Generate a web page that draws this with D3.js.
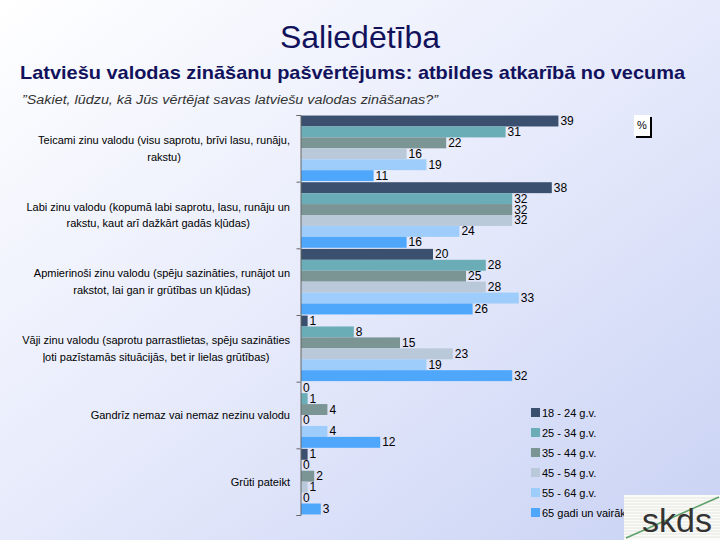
<!DOCTYPE html>
<html><head><meta charset="utf-8">
<script src="https://cdn.jsdelivr.net/npm/d3@7"></script>
<style>html,body{margin:0;padding:0;}svg{display:block;font-family:Arial,"Liberation Sans",sans-serif;}</style>
</head><body>
<script>
const categories = [
  ["Teicami zinu valodu (visu saprotu, brīvi lasu, runāju,", "rakstu)"],
  ["Labi zinu valodu (kopumā labi saprotu, lasu, runāju un", "rakstu, kaut arī dažkārt gadās kļūdas)"],
  ["Apmierinoši zinu valodu (spēju sazināties, runājot un", "rakstot, lai gan ir grūtības un kļūdas)"],
  ["Vāji zinu valodu (saprotu parrastlietas, spēju sazināties", "ļoti pazīstamās situācijās, bet ir lielas grūtības)"],
  ["Gandrīz nemaz vai nemaz nezinu valodu"],
  ["Grūti pateikt"]
];
const seriesNames = ["18 - 24 g.v.", "25 - 34 g.v.", "35 - 44 g.v.", "45 - 54 g.v.", "55 - 64 g.v.", "65 gadi un vairāk"];
const seriesColors = ["#3b506f", "#6badb6", "#7b9494", "#b9c9d9", "#9fcdfb", "#4fa7fb"];
const s18_24 = [39, 38, 20, 1, 0, 1];
const s25_34 = [31, 32, 28, 8, 1, 0];
const s35_44 = [22, 32, 25, 15, 4, 2];
const s45_54 = [16, 32, 28, 23, 0, 1];
const s55_64 = [19, 24, 33, 19, 4, 0];
const s65plus = [11, 16, 26, 32, 12, 3];
const series = [s18_24, s25_34, s35_44, s45_54, s55_64, s65plus];

const W = 720, H = 540;
const svg = d3.select("body").append("svg").attr("width", W).attr("height", H);
const defs = svg.append("defs");
const bg = defs.append("linearGradient").attr("id", "bg").attr("x1", "0").attr("y1", "0").attr("x2", "1").attr("y2", "1");
bg.append("stop").attr("offset", "0").attr("stop-color", "#ffffff");
bg.append("stop").attr("offset", "0.5").attr("stop-color", "#e6eafb");
bg.append("stop").attr("offset", "1").attr("stop-color", "#c9d2f4");
svg.append("rect").attr("width", W).attr("height", H).attr("fill", "url(#bg)");

// Titles
svg.append("text").attr("x", 360).attr("y", 48).attr("text-anchor", "middle")
  .attr("font-size", 32).attr("fill", "#12125c").text("Saliedētība");
svg.append("text").attr("x", 20).attr("y", 79)
  .attr("font-size", 19).attr("font-weight", "bold").attr("fill", "#12125c")
  .attr("textLength", 665).attr("lengthAdjust", "spacingAndGlyphs")
  .text("Latviešu valodas zināšanu pašvērtējums: atbildes atkarībā no vecuma");
svg.append("text").attr("x", 22).attr("y", 104)
  .attr("font-size", 12.5).attr("font-style", "italic").attr("fill", "#333")
  .attr("textLength", 416).attr("lengthAdjust", "spacingAndGlyphs")
  .text("\u201DSakiet, lūdzu, kā Jūs vērtējat savas latviešu valodas zināšanas?\u201D");

// Scales
const x = d3.scaleLinear().domain([0, 60]).range([301, 697]);
const y0 = d3.scaleBand().domain(d3.range(categories.length)).range([115, 515]).paddingInner(0).paddingOuter(0);
const y1 = d3.scaleBand().domain(d3.range(seriesNames.length)).range([0, y0.bandwidth()]).paddingOuter(0.05).paddingInner(0);

const plot = svg.append("g");
categories.forEach((cat, ci) => {
  const g = plot.append("g").attr("transform", `translate(0,${y0(ci)})`);
  series.forEach((vals, si) => {
    const v = vals[ci];
    g.append("rect").attr("x", x(0)).attr("y", y1(si)).attr("width", x(v) - x(0))
      .attr("height", y1.bandwidth()).attr("fill", seriesColors[si]);
    g.append("text").attr("x", x(v) + 2).attr("y", y1(si) + y1.bandwidth() / 2 + 4)
      .attr("font-size", 12).attr("fill", "#000").text(v);
  });
});

// Axis
const yAxisScale = d3.scaleLinear().domain([0, categories.length]).range([115, 515]);
const axis = d3.axisLeft(yAxisScale).ticks(categories.length).tickSize(4).tickFormat("");
const ag = svg.append("g").attr("transform", `translate(${x(0) - 0.5},0)`).call(axis);
ag.selectAll("path,line").attr("stroke", "#666");

// Category labels
const labelG = svg.append("g").attr("font-size", 11).attr("fill", "#000");
categories.forEach((lines, ci) => {
  const cy = y0(ci) + y0.bandwidth() / 2;
  const lh = 16.5;
  const g = labelG.append("g");
  const texts = lines.map((ln, li) => g.append("text")
    .attr("y", cy + (li - (lines.length - 1) / 2) * lh + 4).text(ln));
  const widths = texts.map(t => t.node().getComputedTextLength());
  const maxW = d3.max(widths);
  const center = 290 - maxW / 2;
  texts.forEach(t => t.attr("x", center).attr("text-anchor", "middle"));
});

// % box
svg.append("rect").attr("x", 636).attr("y", 117).attr("width", 16).attr("height", 21).attr("fill", "#000");
svg.append("rect").attr("x", 634).attr("y", 115).attr("width", 16).attr("height", 21).attr("fill", "#fff");
svg.append("text").attr("x", 642).attr("y", 129).attr("text-anchor", "middle").attr("font-size", 11).text("%");

// Legend
const lg = svg.append("g");
seriesNames.forEach((n, i) => {
  const yy = 413 + i * 20;
  lg.append("rect").attr("x", 531).attr("y", yy - 5).attr("width", 9).attr("height", 9).attr("fill", seriesColors[i]);
  lg.append("text").attr("x", 542).attr("y", yy + 4).attr("font-size", 11).attr("fill", "#000").text(n);
});

// skds logo
const logo = svg.append("g");
logo.append("rect").attr("x", 624).attr("y", 495).attr("width", 96).attr("height", 45).attr("fill", "#fbfbf8");
d3.range(498, 540, 3).forEach(yy => logo.append("line").attr("x1", 624).attr("x2", 720).attr("y1", yy).attr("y2", yy).attr("stroke", "#e4e6e0").attr("stroke-width", 1));
logo.append("line").attr("x1", 626).attr("y1", 538).attr("x2", 719).attr("y2", 497).attr("stroke", "#5aa06a").attr("stroke-width", 1.5);
logo.append("text").attr("x", 677).attr("y", 532).attr("text-anchor", "middle").attr("font-size", 34).attr("fill", "#333").text("skds");
</script>
</body></html>
